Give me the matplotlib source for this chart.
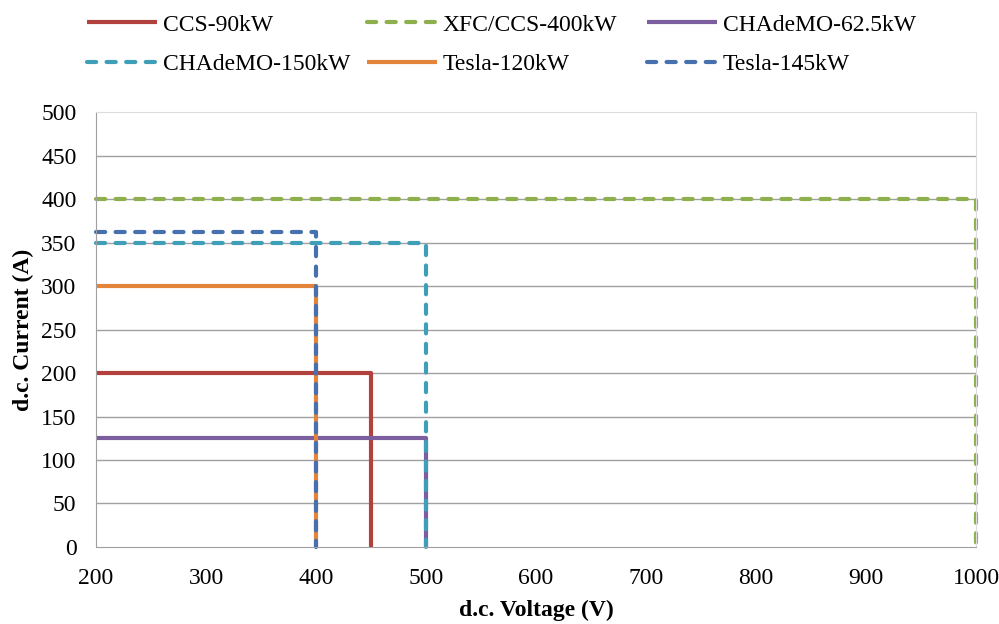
import matplotlib
matplotlib.use("Agg")
import matplotlib.pyplot as plt

plt.rcParams["font.family"] = ["Liberation Serif", "DejaVu Serif"]

# charger limits: max d.c. voltage (V) and max d.c. current (A)
names = ["CCS-90kW", "XFC/CCS-400kW", "CHAdeMO-62.5kW",
         "CHAdeMO-150kW", "Tesla-120kW", "Tesla-145kW"]
max_voltage = [450, 1000, 500, 500, 400, 400]
max_current = [200, 400, 125, 350, 300, 362.5]
dashed = [False, True, False, True, False, True]
colors = ["#B2413E", "#8EB04C", "#7B5E9E", "#3F9FB8", "#E4843A", "#4670AE"]

v_min = 200
fs = 17

fig = plt.figure(figsize=(9.99, 6.24), dpi=100)
ax = fig.add_axes([0.0961, 0.1234, 0.881, 0.6971])

lines = []
for name, v, i, d, c in zip(names, max_voltage, max_current, dashed, colors):
    kw = dict(color=c, lw=3.0, label=name, clip_on=False, solid_capstyle="butt")
    if d:
        kw.update(linestyle=(0, (2.2, 2.5)), dash_capstyle="round")
    ln, = ax.plot([v_min, v, v], [i, i, 0], **kw)
    lines.append(ln)

ax.set_xlim(200, 1000)
ax.set_ylim(0, 500)
ax.set_xticks(range(200, 1001, 100))
ax.set_yticks(range(0, 501, 50))
ax.tick_params(length=0, labelsize=fs)
ax.tick_params(axis="x", pad=15)
ax.tick_params(axis="y", pad=14)
for y in range(50, 500, 50):
    ax.axhline(y, color="#A0A0A0", lw=1.0, zorder=0)
for s in ["left", "bottom"]:
    ax.spines[s].set_color("#A0A0A0")
for s in ["top", "right"]:
    ax.spines[s].set_color("#DDDDDD")

ax.set_xlabel("d.c. Voltage (V)", fontsize=fs, fontweight="bold", labelpad=8)
ax.set_ylabel("d.c. Current (A)", fontsize=fs, fontweight="bold", labelpad=5)

# legend: three fixed-width columns, two rows (row-major like the original)
col_x = [87, 367, 647]
for k, x0 in enumerate(col_x):
    fig.legend(handles=[lines[k], lines[k + 3]], loc="center left",
               bbox_to_anchor=(x0 / 999, 1 - 44.5 / 624), frameon=False,
               fontsize=fs, handlelength=2.95, handletextpad=0.25,
               labelspacing=0.75, borderpad=0, borderaxespad=0)

fig.savefig("out.png", dpi=100)
